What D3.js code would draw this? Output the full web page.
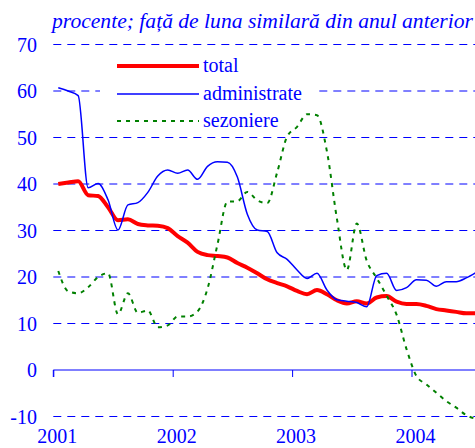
<!DOCTYPE html>
<html><head><meta charset="utf-8">
<script src="https://cdn.jsdelivr.net/npm/d3@7"></script>
<style>html,body{margin:0;padding:0;background:#fff;overflow:hidden}
svg text{font-family:"Liberation Serif","Tinos","Times New Roman","Times","Nimbus Roman","Nimbus Roman No9 L","FreeSerif","DejaVu Serif","Noto Serif",serif;}</style>
</head><body>
<svg id="c" width="475" height="448"></svg>
<script>
// Monthly data, Jan 2001 .. Jul 2004 (visible part)
const months = ["2001-01","2001-02","2001-03","2001-04","2001-05","2001-06","2001-07","2001-08","2001-09","2001-10","2001-11","2001-12",
"2002-01","2002-02","2002-03","2002-04","2002-05","2002-06","2002-07","2002-08","2002-09","2002-10","2002-11","2002-12",
"2003-01","2003-02","2003-03","2003-04","2003-05","2003-06","2003-07","2003-08","2003-09","2003-10","2003-11","2003-12",
"2004-01","2004-02","2004-03","2004-04","2004-05","2004-06","2004-07"];
const total = [40.0,40.3,40.6,37.6,37.4,35.0,32.2,32.4,31.4,31.1,31.0,30.5,
28.8,27.4,25.4,24.7,24.5,24.2,23.0,22.0,20.8,19.5,18.7,18.0,
17.0,16.3,17.2,16.3,15.0,14.3,14.8,14.3,15.6,15.9,14.7,14.2,
14.2,13.8,13.1,12.8,12.5,12.2,12.2];
const administrate = [60.7,60.0,59.0,39.2,40.1,36.6,30.1,35.5,36.0,38.2,41.7,43.0,
42.3,43.0,41.0,43.8,44.8,44.7,41.5,33.5,30.1,29.8,25.2,23.8,
21.5,19.7,20.8,17.2,15.1,14.8,14.5,13.6,20.3,20.8,17.1,17.7,
19.4,19.3,18.0,19.0,19.0,19.8,21.0];
const sezoniere = [21.3,16.9,16.5,17.8,20.0,20.8,12.0,16.5,12.3,12.8,9.2,9.6,
11.5,11.5,12.6,17.5,27.0,36.2,36.3,38.3,36.5,35.9,42.5,50.2,
52.3,55.0,54.8,47.0,32.6,21.5,31.5,23.5,19.8,16.0,11.9,4.5,
-1.3,-3.1,-4.9,-6.7,-8.1,-9.7,-10.5];
const yTicks = [70,60,50,40,30,20,10,0,-10];
const years = ["2001","2002","2003","2004"];
const title = "procente; față de luna similară din anul anterior";
const seriesNames = ["total","administrate","sezoniere"];

const svg = d3.select("#c");
const blue = "#0000ff";

const x = d3.scaleLinear().domain([0, 48]).range([53.3, 53.3 + 48*9.95]);
const y = d3.scaleLinear().domain([-10, 70]).range([416.5, 44.5]);
const xm = i => x(i + 0.5);

// grid lines
svg.append("g").selectAll("line").data(yTicks.filter(v => v !== 0)).join("line")
  .attr("x1", x(0)).attr("x2", 480)
  .attr("y1", d => y(d)).attr("y2", d => y(d))
  .attr("stroke", blue).attr("stroke-width", 1).attr("stroke-dasharray", "8,6");

// legend box (behind series)
svg.append("rect").attr("x", 100).attr("y", 50).attr("width", 219).attr("height", 61).attr("fill", "#fff");

// zero axis with ticks
const xAxis = d3.axisBottom(x).tickValues([0,12,24,36]).tickSize(7).tickFormat("");
const ag = svg.append("g").attr("transform", `translate(0,${y(0)})`).call(xAxis);
ag.select(".domain").attr("stroke", blue).attr("d", `M${x(0)},7V0H480`);
ag.selectAll(".tick line").attr("stroke", blue);

// year labels
svg.append("g").selectAll("text").data(years).join("text")
  .attr("x", (d, i) => x(i*12) + 4).attr("y", 443)
  .attr("text-anchor", "middle").attr("fill", blue)
  .attr("font-size", 20).text(d => d);

// y labels
svg.append("g").selectAll("text").data(yTicks).join("text")
  .attr("x", 37).attr("y", d => y(d) + 7)
  .attr("text-anchor", "end").attr("fill", blue)
  .attr("font-size", 20).text(d => d);

// title
const t = svg.append("text").attr("x", 52).attr("y", 28).attr("fill", blue)
  .attr("font-style", "italic").attr("font-size", 18)
  .text(title);
const tw = t.node().getComputedTextLength();
t.attr("font-size", 18 * 421 / tw);

const line = d3.line().x((d, i) => xm(i)).y(d => y(d)).curve(d3.curveMonotoneX);
svg.append("path").datum(total).attr("d", line).attr("fill", "none")
  .attr("stroke", "#ff0000").attr("stroke-width", 4).attr("stroke-linejoin", "round");
svg.append("path").datum(administrate).attr("d", line).attr("fill", "none")
  .attr("stroke", blue).attr("stroke-width", 1.5);
svg.append("path").datum(sezoniere).attr("d", line).attr("fill", "none")
  .attr("stroke", "#008000").attr("stroke-width", 2).attr("stroke-dasharray", "4,5");

// legend
const legY = [66, 94, 121];
const legStyles = [
  {c: "#ff0000", w: 4, d: null},
  {c: blue, w: 1.5, d: null},
  {c: "#008000", w: 2.2, d: "4,5"}
];
seriesNames.forEach((n, i) => {
  const s = legStyles[i];
  const l = svg.append("line").attr("x1", 117).attr("x2", 199).attr("y1", legY[i]).attr("y2", legY[i])
    .attr("stroke", s.c).attr("stroke-width", s.w);
  if (s.d) l.attr("stroke-dasharray", s.d);
  svg.append("text").attr("x", 203).attr("y", legY[i] + 6).attr("fill", blue)
    .attr("font-size", 20).text(n);
});
</script>
</body></html>
